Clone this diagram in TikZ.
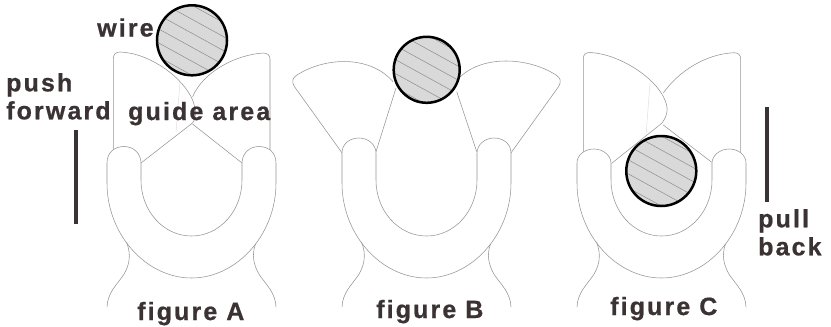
\documentclass[tikz,border=0pt]{standalone}
\usepackage{fontspec}
\setmainfont{Liberation Sans}[LetterSpace=8.5,BoldFeatures={FakeBold=0.7}]
\definecolor{inkdark}{RGB}{58,50,51}
\definecolor{thingray}{RGB}{150,150,150}
\definecolor{wirefill}{RGB}{217,217,217}
\definecolor{hatchgray}{RGB}{140,140,140}
\tikzset{
    outline/.style={draw=thingray, line width=0.55pt, line join=round},
    faint/.style={draw=black!12, line width=0.5pt},
    lab/.style={text=inkdark, inner sep=0pt, font=\bfseries\fontsize{25}{28}\selectfont},
    bar/.style={draw=inkdark, line width=4pt},
    wireedge/.style={draw=black, line width=2.5pt},
}

\begin{document}
\begin{tikzpicture}[x=1pt,y=-1pt]
    \useasboundingbox (0,0) rectangle (831,327);
    \fill[white] (0,0) rectangle (831,327);

    % jaws of figure A
    \draw[outline] (113.3,150) -- (113.3,59) .. controls (113.3,54) and (116,52) .. (120,52)
        .. controls (150,53) and (184,78) .. (193,101) .. controls (196,110) and (197,117) .. (192.5,123) -- (141,163);
    \draw[outline] (270,150) -- (270,59) .. controls (270,55) and (267,53) .. (263,53)
        .. controls (235,55) and (203,72) .. (192.5,97);
    \draw[outline] (192.5,124) -- (242,163);
    \draw[faint] (180,82) -- (176,132);

    % jaws of figure B
    \draw[outline] (342.3,153.3) -- (294,86) .. controls (291.5,81) and (292.5,78) .. (297,75)
        .. controls (325,57) and (370,55) .. (393,81.7);
    \draw[outline] (396,88) -- (376,151.7);
    \draw[outline] (510.7,153.3) -- (559,86) .. controls (561.5,81) and (560.5,78) .. (556,75)
        .. controls (528,57) and (483,55) .. (460,77);
    \draw[outline] (456.7,91.7) -- (476.7,151.7);

    % jaws of figure C
    \draw[outline] (583.3,152) -- (583.3,59) .. controls (583.3,54) and (586,52.5) .. (590,52.5)
        .. controls (620,54) and (655,78) .. (664,98) .. controls (668,106) and (669,114) .. (661.7,123.3) -- (611.7,163.3);
    \draw[outline] (740.7,157) -- (740.7,59) .. controls (740.7,55) and (738,52.7) .. (734,52.7)
        .. controls (705,54) and (678,72) .. (663.3,93);
    \draw[outline] (663.3,125) -- (711.7,162.3);
    \draw[faint] (650,83) -- (646,135);

    % handles, the same for all three
    \foreach \cx/\capb/\capt in {191.5/163/146.5, 426.5/153/138, 661.5/163/149} {
        \begin{scope}[shift={(\cx,0)}]
            \draw[outline, fill=white] (-84.5,\capb) .. controls (-84.5,\capt+6) and (-77,\capt) .. (-67.5,\capt)
                .. controls (-58,\capt) and (-50.5,\capt+7) .. (-50.5,\capb)
                -- (-50.5,180) .. controls (-50.5,211) and (-28,236) .. (0,236)
                .. controls (28,236) and (50.5,211) .. (50.5,180) -- (50.5,\capb)
                .. controls (50.5,\capt+7) and (58,\capt) .. (67.5,\capt)
                .. controls (77,\capt) and (84.5,\capt+6) .. (84.5,\capb)
                -- (84.5,183) .. controls (84.5,235) and (45,278) .. (0,278)
                .. controls (-45,278) and (-84.5,235) .. (-84.5,183) -- cycle;
            \draw[outline] (-65,242) .. controls (-60,255) and (-62,265) .. (-68,275)
                .. controls (-75,285) and (-84,293) .. (-84.5,307);
            \draw[outline] (64,244) .. controls (60,255) and (62,265) .. (68,275)
                .. controls (75,285) and (84,293) .. (84.5,307);
        \end{scope}
    }

    % wires
    \foreach \wx/\wy/\wr in {192/40.3/35, 426.7/69.8/33, 661.3/171/35} {
        \fill[wirefill] (\wx,\wy) circle (\wr);
        \begin{scope}
            \clip (\wx,\wy) circle (\wr);
            \foreach \k in {-4,...,3} {
                \draw[hatchgray, line width=0.5pt] (\wx-40,\wy+14*\k-15) -- (\wx+40,\wy+14*\k+29);
            }
        \end{scope}
        \draw[wireedge] (\wx,\wy) circle (\wr);
    }

    \draw[bar] (75.7,130) -- (75.7,224.3);
    \draw[bar] (766.7,107) -- (766.7,202);

    \node[lab, anchor=base west] (wire) at (97,36.5) {wire};
    \node[lab, anchor=north west, align=left] (push) at (6,73) {push\\forward};
    \node[lab, anchor=base west] (guide) at (128,120) {guide area};
    \node[lab, anchor=north west, align=left] (pull) at (758,209) {pull\\back};
    \node[lab, anchor=base west] (figA) at (137,320) {figure A};
    \node[lab, anchor=base west] (figB) at (376,318) {figure B};
    \node[lab, anchor=base west] (figC) at (610,315) {figure C};
\end{tikzpicture}
\end{document}
